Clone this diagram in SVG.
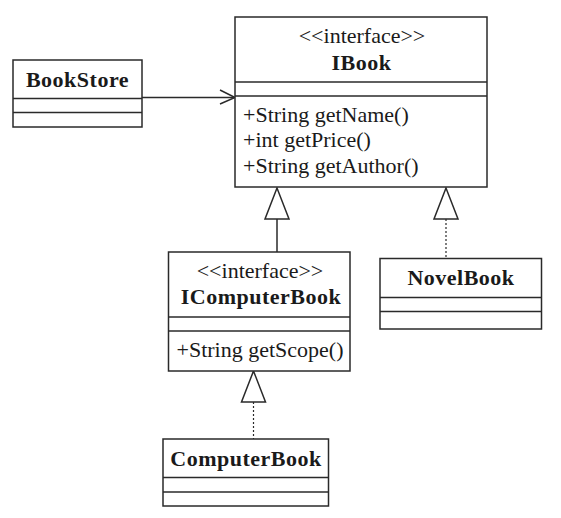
<svg xmlns="http://www.w3.org/2000/svg" width="561" height="518" viewBox="0 0 561 518">
<style>
.box{fill:#fff;stroke:#2a2a2a;stroke-width:1.5}
.ln{stroke:#2a2a2a;stroke-width:1.5;fill:none}
.dot{stroke:#2a2a2a;stroke-width:1.2;fill:none;stroke-dasharray:2,2}
.tri{fill:#fff;stroke:#2a2a2a;stroke-width:1.5}
text{font-family:"Liberation Serif","Times New Roman",serif;font-size:22px;fill:#1a1a1a}
.nm{font-weight:bold;letter-spacing:0.5px;text-anchor:middle}
.st{text-anchor:middle}
</style>
<rect width="561" height="518" fill="#fff"/>
<g id="connectors">
<line class="ln" x1="142" y1="97.5" x2="234" y2="97.5"/>
<polyline class="ln" points="220,90 235,97.5 220,104"/>
<line class="ln" x1="277" y1="219" x2="277" y2="252"/>
<polygon class="tri" points="277,188 265,219 289,219"/>
<line class="dot" x1="446" y1="219" x2="446" y2="258"/>
<polygon class="tri" points="446,188 434,219 458,219"/>
<line class="dot" x1="253.5" y1="402" x2="253.5" y2="439"/>
<polygon class="tri" points="253.5,371 241.5,402 265.5,402"/>
</g>
<g id="BookStore">
<rect class="box" x="13" y="60" width="129" height="67"/>
<line class="ln" x1="13" y1="98.5" x2="142" y2="98.5"/>
<line class="ln" x1="13" y1="112.5" x2="142" y2="112.5"/>
<text class="nm" x="77.5" y="87">BookStore</text>
</g>
<g id="IBook">
<rect class="box" x="235" y="17" width="252" height="170"/>
<line class="ln" x1="235" y1="82" x2="487" y2="82"/>
<line class="ln" x1="235" y1="96" x2="487" y2="96"/>
<text class="st" x="362" y="43">&lt;&lt;interface&gt;&gt;</text>
<text class="nm" x="361.5" y="70">IBook</text>
<text x="243" y="121.5">+String getName()</text>
<text x="243" y="147">+int getPrice()</text>
<text x="243" y="172.5">+String getAuthor()</text>
</g>
<g id="IComputerBook">
<rect class="box" x="168.5" y="252" width="181.5" height="119"/>
<line class="ln" x1="168.5" y1="317" x2="350" y2="317"/>
<line class="ln" x1="168.5" y1="331" x2="350" y2="331"/>
<text class="st" x="260" y="278">&lt;&lt;interface&gt;&gt;</text>
<text class="nm" x="261" y="304">IComputerBook</text>
<text x="176.5" y="356.5">+String getScope()</text>
</g>
<g id="NovelBook">
<rect class="box" x="380" y="258.5" width="161.5" height="70.5"/>
<line class="ln" x1="380" y1="297.5" x2="541.5" y2="297.5"/>
<line class="ln" x1="380" y1="311.5" x2="541.5" y2="311.5"/>
<text class="nm" x="461" y="284.5">NovelBook</text>
</g>
<g id="ComputerBook">
<rect class="box" x="163" y="439" width="165.5" height="67"/>
<line class="ln" x1="163" y1="477.5" x2="328.5" y2="477.5"/>
<line class="ln" x1="163" y1="492" x2="328.5" y2="492"/>
<text class="nm" x="246" y="466">ComputerBook</text>
</g>
</svg>
